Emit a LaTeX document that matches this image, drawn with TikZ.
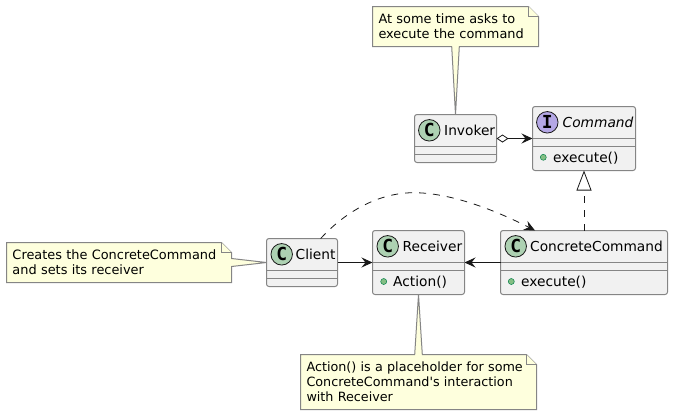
\documentclass[tikz,border=0pt]{standalone}
\usepackage{fontspec}
\setmainfont{DejaVu Sans}
\newfontfamily\plainfont{DejaVu Sans}
\newfontfamily\spotfont{DejaVu Sans Mono Bold}
\usetikzlibrary{arrows.meta,backgrounds,calc}
\definecolor{boxfill}{HTML}{F1F1F1}
\definecolor{ink}{HTML}{181818}
\definecolor{edge}{HTML}{858585}
\definecolor{notefill}{HTML}{FEFFDD}
\definecolor{spotC}{HTML}{ADD1B2}
\definecolor{spotI}{HTML}{B4A7E5}
\definecolor{dotfill}{HTML}{84BE84}
\definecolor{dotline}{HTML}{038048}
\tikzset{
  cbox/.style={draw=edge,fill=boxfill,line width=1bp,rounded corners=2.5bp,inner sep=0pt,outer sep=0pt},
  cname/.style={anchor=base west,inner sep=0pt,text=black,font=\fontsize{13.8}{16}\selectfont},
  spot/.style={circle,draw=ink,line width=0.8bp,minimum size=21.5bp,inner sep=0pt,font=\spotfont\fontsize{18}{18}\selectfont},
  dotm/.style={circle,draw=dotline,fill=dotfill,line width=0.5bp,minimum size=6bp,inner sep=0pt},
  notebox/.style={inner sep=0pt,outer sep=0pt,align=left,font=\fontsize{12.95}{15}\selectfont},
  noteshape/.style={draw=edge,fill=notefill,line width=1bp,line join=miter},
  rel/.style={draw=ink,line width=0.8bp},
  reltip/.style={-{Stealth[length=11bp,width=10bp,inset=4bp]}},
  dashrel/.style={dash pattern=on 7bp off 7bp}
}
\newcommand{\comparts}[1]{%
  \draw[edge,line width=1bp] ([yshift=-32bp]#1.north west) -- ([yshift=-32bp]#1.north east);
  \draw[edge,line width=1bp] ([yshift=-40bp]#1.north west) -- ([yshift=-40bp]#1.north east);
}
\begin{document}
\begin{tikzpicture}[x=1bp,y=-1bp]
\useasboundingbox (0,0) rectangle (673,415);
% classes
\node[cbox,minimum width=82bp,minimum height=48bp] (inv) at (455.5,138.5) {};
\node[cbox,minimum width=103bp,minimum height=64bp] (cmd) at (584,138.5) {};
\node[cbox,minimum width=71bp,minimum height=48bp] (cli) at (302,262.5) {};
\node[cbox,minimum width=92bp,minimum height=64bp] (rec) at (418.5,262.5) {};
\node[cbox,minimum width=167bp,minimum height=64bp] (cc) at (584,262.5) {};
\comparts{inv}\comparts{cmd}\comparts{cli}\comparts{rec}\comparts{cc}
\node[spot,fill=spotC] (s1) at (429.3,130.3) {C};
\node[cname] (t1) at (444,135) {Invoker};
\node[spot,fill=spotI] (s2) at (547.3,122.3) {I};
\node[cname,font=\fontsize{13.8}{16}\selectfont\itshape] (t2) at (562.5,127) {Command};
\node[dotm] (d2) at (543.3,157.3) {};
\node[cname] (m2) at (553,162.3) {execute()};
\node[spot,fill=spotC] (s3) at (281.7,254.3) {C};
\node[cname] (t3) at (295.5,259) {Client};
\node[spot,fill=spotC] (s4) at (387.7,246.3) {C};
\node[cname] (t4) at (402.5,251) {Receiver};
\node[dotm] (d4) at (383.7,281.5) {};
\node[cname] (m4) at (393,286.3) {Action()};
\node[spot,fill=spotC] (s5) at (515.7,246.3) {C};
\node[cname] (t5) at (530,251) {ConcreteCommand};
\node[dotm] (d5) at (511.3,281.5) {};
\node[cname] (m5) at (521,286.3) {execute()};
% notes
\node[notebox,text width=154bp,minimum height=40bp] (n1) at (455.5,26.5) {At some time asks to\\execute the command};
\node[notebox,text width=213bp,minimum height=40bp] (n2) at (119,262.5) {Creates the ConcreteCommand\\and sets its receiver};
\node[notebox,font=\fontsize{12.8}{15}\selectfont,text width=224bp,minimum height=55bp] (n3) at (418.5,382) {Action() is a placeholder for some\\ConcreteCommand{\plainfont\symbol{39}}s interaction\\with Receiver};
\begin{scope}[on background layer]
\coordinate (n1nw) at (372.5,6.5); \coordinate (n2nw) at (6.5,242.5); \coordinate (n3nw) at (300.5,354.5);
\draw[noteshape] (n1nw) -- (528.5,6.5) -- (538.5,16.5) -- (538.5,46.5) -- (459.3,46.5) -- (inv.north) -- (451.7,46.5) -- (372.5,46.5) -- cycle;
\draw[noteshape] (528.5,6.5) -- (528.5,16.5) -- (538.5,16.5);
\draw[noteshape] (n2nw) -- (221.5,242.5) -- (231.5,252.5) -- (231.5,258.5) -- (cli.west) -- (231.5,266.5) -- (231.5,282.5) -- (6.5,282.5) -- cycle;
\draw[noteshape] (221.5,242.5) -- (221.5,252.5) -- (231.5,252.5);
\draw[noteshape] (n3nw) -- (414.7,354.5) -- (rec.south) -- (422.3,354.5) -- (526.5,354.5) -- (536.5,364.5) -- (536.5,409.5) -- (300.5,409.5) -- cycle;
\draw[noteshape] (526.5,354.5) -- (526.5,364.5) -- (536.5,364.5);
\end{scope}
% connectors
\draw[rel,{Diamond[open,length=12bp,width=8bp]}-{Stealth[length=11bp,width=10bp,inset=4bp]}] (inv.east) -- (cmd.west);
\draw[rel,reltip] (cli.east) -- (rec.west);
\draw[rel,reltip] (cc.west) -- (rec.east);
\draw[rel,dashrel,-{Triangle[open,length=20bp,width=15bp,fill=white]}] (cc.north) -- (cmd.south);
\draw[rel,dashrel,reltip] ([xshift=18.7bp]cli.north) .. controls (345,212) and (378,193) .. (413,192.7) .. controls (450,192.5) and (495,210) .. ([xshift=-49bp]cc.north);
\end{tikzpicture}
\end{document}
